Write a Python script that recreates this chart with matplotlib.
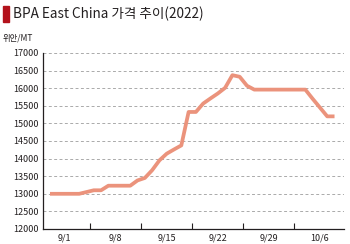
import numpy as np
import matplotlib
matplotlib.use("Agg")
import matplotlib.pyplot as plt
from matplotlib.patches import Rectangle

plt.rcParams['font.family'] = ['Noto Sans CJK KR', 'DejaVu Sans']

# 일별 가격 (2022-08-30 ~ 2022-10-08), 위안/MT
start_date = "2022-08-30"
prices = [13000, 13000, 13000, 13000, 13000, 13050, 13100, 13100, 13230, 13230,
          13230, 13230, 13380, 13450, 13670, 13950, 14140, 14260, 14375, 15325,
          15325, 15565, 15710, 15850, 16010, 16370, 16325, 16070, 15960, 15960,
          15960, 15960, 15960, 15960, 15960, 15960, 15700, 15450, 15200, 15200]
tick_labels = ["9/1", "9/8", "9/15", "9/22", "9/29", "10/6"]
y_ticks = list(range(12000, 17001, 500))

dates = np.arange(np.datetime64(start_date), np.datetime64(start_date) + len(prices))
days = (dates - dates[0]).astype(int)
label_days = [(np.datetime64("2022-" + "-".join(f"{int(p):02d}" for p in t.split("/"))) - dates[0]).astype(int)
              for t in tick_labels]

fig = plt.figure(figsize=(3.5, 2.44), dpi=100)
ax = fig.add_axes([43/350, 15/244, 301/350, 176/244])

ax.plot(days, prices, color='#eb937c', lw=2.7, solid_joinstyle='round', solid_capstyle='butt', zorder=3)

ax.set_ylim(12000, 17000)
ax.set_xlim(-0.96, 40.3)
ax.set_yticks(y_ticks)
ax.tick_params(axis='y', length=0, labelsize=6.5, pad=3, colors='#231f20')
for y in y_ticks[1:]:
    ax.axhline(y, color='#aaaaaa', lw=0.7, ls=(0, (3, 2.5)), zorder=1)

ax.set_xticks(label_days)
ax.set_xticklabels(tick_labels)
ax.set_xticks([d + 3.5 for d in label_days[:-1]], minor=True)
ax.tick_params(axis='x', which='major', length=0, labelsize=6.5, pad=3, colors='#231f20')
ax.tick_params(axis='x', which='minor', length=4, direction='in', width=0.8, color='#231f20')
for lab in ax.get_xticklabels() + ax.get_yticklabels():
    lab.set_fontweight('medium')

for s in ['top', 'right']:
    ax.spines[s].set_visible(False)
for s in ['left', 'bottom']:
    ax.spines[s].set_color('#231f20')
    ax.spines[s].set_linewidth(0.9)

fig.patches.append(Rectangle((3/350, 1-22/244), 6/350, 16/244, transform=fig.transFigure,
                             color='#b3121c'))
fig.text(13/350, 1-14/244, "BPA East China 가격 추이(2022)", fontsize=9.8,
         fontweight='medium', va='center', ha='left', color='#231f20')
fig.text(3/350, 1-38/244, "위안/MT", fontsize=6, fontweight='medium',
         va='center', ha='left', color='#231f20')

fig.savefig("out.png", dpi=100)
